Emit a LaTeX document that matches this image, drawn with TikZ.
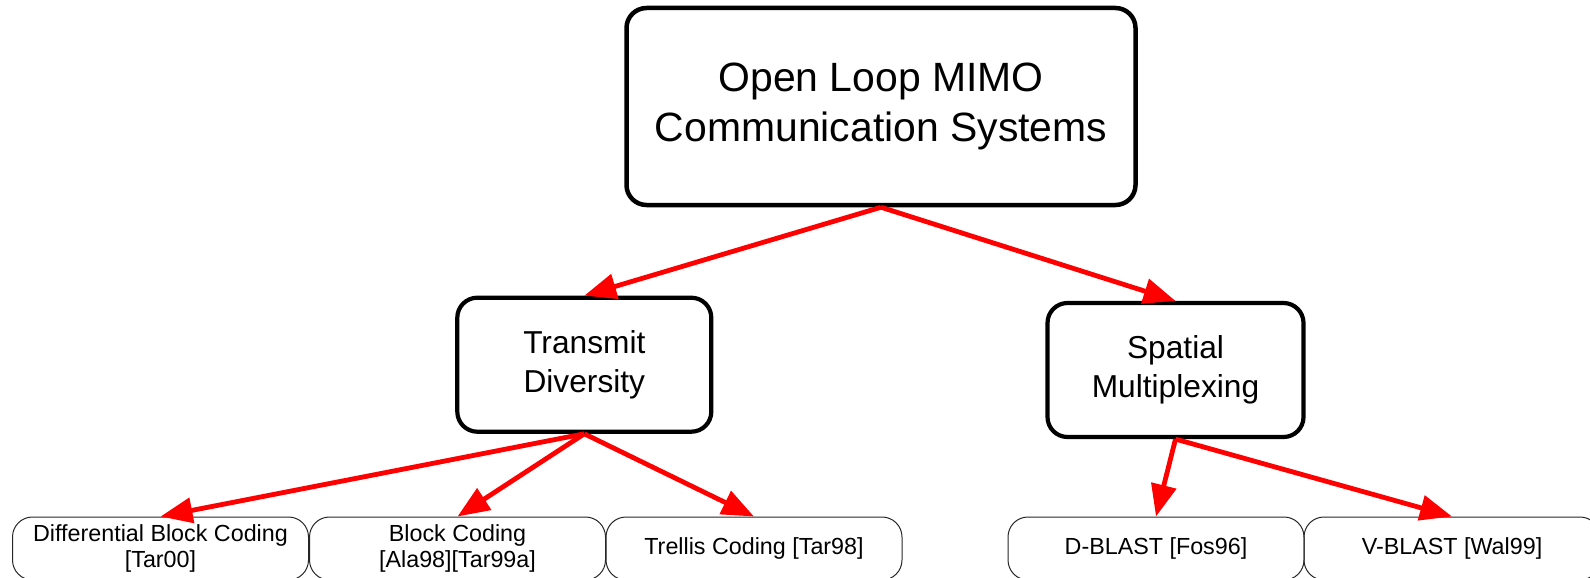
\documentclass[tikz,border=0pt]{standalone}
\usepackage{fontspec}
\setmainfont{Liberation Sans}
\usetikzlibrary{arrows.meta}
\begin{document}
\begin{tikzpicture}[x=1pt,y=-1pt,
  topbox/.style={draw, line width=4.5pt, rounded corners=20pt, align=center,
    font=\fontsize{40.9}{50}\selectfont, inner sep=0pt,
    minimum width=509pt, minimum height=197pt},
  midbox/.style={draw, line width=4.2pt, rounded corners=20pt, align=center,
    font=\fontsize{31.7}{38.5}\selectfont, inner sep=0pt,
    minimum width=254pt, minimum height=134pt},
  leafbox/.style={draw=black!85, line width=1pt, rounded corners=20pt, align=center,
    font=\fontsize{23.3}{26.4}\selectfont, inner sep=0pt,
    minimum width=296pt, minimum height=63pt},
  link/.style={draw=red, line width=4.8pt, -{Triangle[length=32pt,width=25pt]}}
]
\clip (0,0) rectangle (1590,578);

% root
\node[topbox] (sys) at (881,106.5) {Open Loop MIMO\\Communication Systems};

% second level
\node[midbox] (td) at (584.3,364.7) {Transmit\\Diversity};
\node[midbox, minimum width=256pt] (sm) at (1175.5,370) {Spatial\\Multiplexing};

% leaves
\node[leafbox] (dbc) at (160.5,548.5) {Differential Block Coding\\{}[Tar00]};
\node[leafbox] (bc)  at (457.5,548.5) {Block Coding\\{}[Ala98][Tar99a]};
\node[leafbox] (tc)  at (754,548.5)   {Trellis Coding [Tar98]};
\node[leafbox] (db)  at (1156,548.5)  {D-BLAST [Fos96]};
\node[leafbox] (vb)  at (1452,548.5)  {V-BLAST [Wal99]};

% connectors
\draw[link] (sys.south) -- (td.north);
\draw[link] (sys.south) -- (sm.north);
\draw[link] (td.south) -- (dbc.north);
\draw[link] (td.south) -- (bc.north);
\draw[link] (td.south) -- (tc.north);
\draw[link] (sm.south) -- (db.north);
\draw[link] (sm.south) -- (vb.north);
\end{tikzpicture}
\end{document}
